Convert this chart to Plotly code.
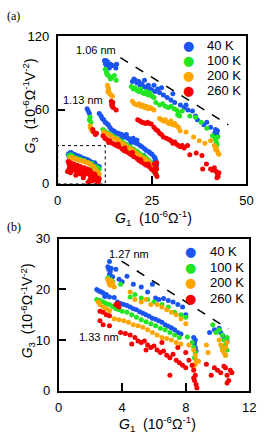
import plotly.graph_objects as go

# ---------------- DATA ----------------
temps = ["40 K", "100 K", "200 K", "260 K"]
colors = ["#1a55f0", "#22e622", "#ffa500", "#f50000"]

# Panel (a)
a_x_40 = [12.4, 12.6, 12.8, 13.0, 12.7, 13.2, 13.5, 13.0, 14.0, 14.6, 15.4, 15.6, 13.7,
          7.8, 8.1, 8.4,
          11.0, 11.5, 11.8, 12.2, 12.6, 13.0, 13.4, 13.8, 14.2, 14.8, 15.2, 15.6, 16.0, 16.5, 17.0, 17.5, 18.0,
          18.5, 19.0, 19.3, 19.8, 20.3, 20.8, 21.2, 21.8, 22.3, 23.0, 23.5, 24.2, 25.0, 25.5, 25.8, 26.0, 26.1,
          26.2, 25.7, 22.8, 16.8, 18.2, 20.0, 21.0, 17.3, 19.5, 24.5,
          2.8, 3.2, 3.5, 3.8, 4.2, 4.6, 5.0, 5.5, 6.0, 6.5, 7.0, 7.5, 8.0, 8.5, 9.0, 9.5, 10.0, 10.5, 11.0,
          3.0, 4.0, 9.8,
          19.8, 20.2, 20.6, 21.0, 21.5, 21.8, 22.3, 22.8, 23.0, 23.5, 24.0, 24.5, 25.0, 25.8, 26.5, 27.0,
          28.0, 29.0, 30.0, 31.0, 32.5, 33.5, 34.5, 35.7, 36.5, 37.0, 38.7, 39.5, 40.5, 41.8, 42.0, 42.2,
          42.0, 42.3, 41.6, 25.5, 27.5, 30.5, 34.0]
a_y_40 = [100, 99, 100, 98, 97, 99, 96, 95, 97, 96, 94, 97, 94,
          61, 59, 57,
          57, 55, 53, 52, 50, 49, 48, 46, 44, 43, 42, 41, 41, 40.5, 40, 39, 38.5,
          37, 36.5, 35, 35.5, 34, 33, 32.5, 31, 30, 28.5, 27, 26, 24, 22, 21, 19, 17,
          15, 18, 23, 38, 40, 37, 35.5, 37.5, 33.5, 25,
          24, 25, 25.5, 24.5, 24, 23.5, 23, 22.5, 22, 21, 20.5, 20, 19.5, 18.5, 17.5, 16.5, 15.5, 14.5, 14,
          22, 22.5, 17,
          83, 85, 84, 82, 83, 80, 81, 79, 84, 78, 80, 77, 76, 75, 77, 74,
          72, 70, 68, 66, 64, 62, 60, 59, 55, 52, 48, 50, 46, 44, 42, 40,
          38, 43, 41, 80, 78, 73, 64]

a_x_100 = [12.6, 12.9, 13.1, 13.4, 13.8, 14.3, 15.0, 15.5, 13.0, 14.0,
           8.6, 8.4, 8.8,
           12.0, 12.3, 12.8, 13.3, 13.8, 14.5, 15.0, 15.5, 16.2, 17.0, 17.5, 18.2, 19.0, 19.5, 20.2, 21.0,
           21.5, 22.2, 23.0, 23.5, 24.2, 24.8, 25.3, 25.8, 26.0, 26.2, 25.5, 22.5, 20.0, 18.4,
           3.0, 3.5, 4.0, 5.0, 6.0, 7.0, 8.0, 9.0, 10.0, 10.5, 11.0, 9.5, 8.8,
           19.5, 20.0, 20.5, 21.0, 21.5, 22.0, 22.5, 23.0, 23.5, 24.0, 24.5, 25.0, 25.5, 26.0, 27.0, 27.8,
           28.5, 29.3, 30.0, 30.8, 31.5, 32.0, 32.3, 31.8, 33.0, 35.0, 36.5, 38.0, 39.5, 41.0, 41.8, 42.0,
           42.2, 42.0, 41.7, 42.4]
a_y_100 = [93, 91, 89, 88, 87, 86, 88, 84, 90, 85,
           54, 52, 50,
           44, 43, 42, 41, 40.5, 39, 38, 37, 36, 34.5, 33, 32, 30.5, 29, 28, 26.5,
           25, 23.5, 22, 21, 19, 17, 15, 12, 9, 7, 10, 18, 23, 27.5,
           23, 23.5, 22.5, 21, 20, 19, 17.5, 16.5, 14, 13.5, 12, 13, 12,
           79, 77, 78, 76, 75, 77, 74, 73, 75, 72, 74, 71, 70, 66, 64, 65,
           63, 62, 63, 61, 60, 58, 55, 56, 59, 55, 54, 50, 45, 39, 36, 34,
           32, 30, 37, 38]

a_x_200 = [13.2, 13.4, 13.5, 13.3, 13.6, 13.8, 14.5, 14.2,
           8.6, 8.8, 9.0, 8.7,
           12.2, 12.8, 13.5, 14.2, 15.0, 15.8, 16.5, 17.3, 18.0, 18.8, 19.5, 20.3, 21.0, 21.8, 22.5, 23.3,
           24.0, 24.8, 25.5, 26.0, 16.0, 20.0, 23.0,
           3.2, 3.6, 4.0, 4.5, 5.0, 5.5, 6.0, 6.5, 7.0, 7.5, 8.0, 8.5, 9.0, 9.5, 10.0, 10.5, 11.0, 10.8,
           19.8, 20.3, 21.0, 21.5, 22.0, 22.5, 23.0, 23.5, 24.0, 24.5, 25.0, 25.5, 27.0, 27.5, 28.0, 28.5,
           29.0, 29.5, 30.0, 30.5, 31.0, 31.5, 32.0, 32.4, 34.0, 36.0, 37.5, 39.0, 40.5, 41.5, 42.0, 42.2,
           42.5, 42.7, 41.8]
a_y_200 = [80, 78, 76, 75, 74, 73, 71, 72,
           47, 45, 43, 46,
           42, 41, 40, 38.5, 37, 35.5, 34, 32.5, 31, 29.5, 28, 26, 24.5, 23, 21, 19.5,
           18, 16, 14, 12, 36, 27, 20.5,
           21, 21.5, 21, 20.5, 20, 19.5, 19, 18.5, 18, 17.5, 17, 16, 15, 14, 12, 10, 8, 6,
           67, 65, 64, 65, 63, 64, 62, 63, 61, 62, 61, 60, 53, 52, 51, 52,
           50, 49, 51, 48, 49, 47, 46, 43, 42, 38, 35, 33, 35, 31, 29, 27,
           25, 24, 28]

a_x_260 = [14.2, 14.4, 14.5, 14.3, 14.7, 14.6, 15.5,
           9.5, 10.0, 10.3, 9.3,
           12.0, 12.5, 13.0, 13.8, 14.5, 15.0, 15.5, 16.2, 17.0, 17.5, 18.2, 19.0, 19.5, 20.2, 21.0, 21.5,
           22.2, 23.0, 23.5, 24.2, 24.8, 25.3, 25.8, 26.0, 26.2, 26.0, 26.3, 25.6, 26.2, 13.5, 16.0, 17.8,
           19.8, 22.0, 24.0,
           2.8, 3.0, 3.2, 3.5, 3.8, 4.0, 4.3, 4.6, 5.0, 5.2, 5.5, 5.8, 6.0, 6.3, 6.6, 7.0, 7.2, 7.5, 7.8,
           8.0, 8.2, 8.5, 8.7, 9.0, 9.2, 9.5, 9.8, 10.0, 10.2, 10.5, 10.8, 11.0, 9.0, 8.5, 3.0, 4.0, 5.0,
           6.0, 7.0, 8.0, 10.6, 2.6, 3.4, 4.8, 6.8, 9.6,
           21.2, 21.8, 22.3, 22.8, 23.3, 23.8, 24.3, 24.8, 25.5, 26.0, 26.5, 27.0, 27.5, 28.0, 28.8, 29.5,
           30.0, 30.5, 31.0, 31.5, 32.0, 32.5, 33.0, 33.5, 34.4, 35.0, 36.7, 38.2, 39.4, 38.4, 40.5, 41.5,
           42.0, 42.3, 42.5, 42.7, 42.2, 41.0]
a_y_260 = [67, 65, 63, 64, 62, 66, 60,
           42, 40, 41, 44,
           39, 37, 36, 35, 33, 32, 31, 30, 28.5, 27, 26, 24.5, 23.5, 22, 20.5, 19,
           17.5, 16, 15, 14, 12, 11, 9, 14, 12, 8, 6, 16, 17, 33.5, 32, 29,
           25.5, 19.5, 16,
           18, 16, 14, 17, 15, 13, 16, 14, 12, 15, 13, 11, 14, 12, 10, 13, 11, 9, 12,
           10, 8, 11, 6, 9, 7, 5, 8, 6, 3, 5, 2, 4, 2, 3, 12, 11, 10,
           8, 7, 1, 1, 10, 9, 7, 5, 3,
           52, 51, 50, 49.5, 49, 50, 49, 48.5, 46, 44, 43, 41, 40, 38, 37, 36,
           35, 33, 34, 32, 31, 30, 31, 29, 31, 23.5, 25, 23, 16, 12, 12, 13,
           10, 8, 6, 9, 5, 11]

# Panel (b)
b_x_40 = [3.1, 3.2, 3.15, 3.25, 3.3, 3.2, 3.4, 3.6, 3.8, 4.0, 4.3, 4.7, 5.2, 5.6, 5.9, 6.1, 6.3, 6.6,
          6.9, 7.2, 7.5, 7.8, 8.0, 9.5, 9.8, 10.1, 10.3, 10.4, 10.5, 10.6, 10.2,
          2.4, 2.5, 2.6, 2.7, 2.8, 3.0, 3.2, 3.5, 3.7, 3.9, 4.1, 4.3, 4.5, 4.7, 4.9, 5.1, 5.3, 5.5, 5.7,
          5.9, 6.1, 6.3, 6.5, 6.7, 6.9, 7.1, 7.3, 7.5, 7.7, 8.5, 8.6, 8.55, 8.6, 8.65, 2.9]
b_y_40 = [24.5, 25.5, 24, 23.5, 24.2, 23, 22.5, 24, 22, 21.5, 22.6, 21, 20.5, 19.5, 21, 18.3, 18, 18.2,
          17.8, 17.5, 17, 16.5, 15, 11.5, 12, 12.3, 11, 10.5, 10, 9.8, 11.5,
          20, 19.8, 19.6, 19.5, 19.3, 19, 18.5, 18.4, 17.5, 17.2, 17, 16.8, 16.5, 16.2, 16, 15.6, 15.3, 15, 14.7,
          14.3, 14.1, 13.8, 13.5, 13, 12.7, 12.4, 12, 11.5, 11.2, 10.5, 10, 9.3, 8.5, 7.8, 18.6]

b_x_100 = [3.1, 3.2, 3.3, 3.4, 3.9, 4.5, 4.8, 5.2, 5.6, 6.0, 6.5, 6.9, 7.3, 7.7, 8.0, 9.7, 9.9, 10.1,
           10.3, 10.4, 10.5, 10.6, 10.5, 10.3, 10.6,
           2.4, 2.6, 2.8, 3.0, 3.2, 3.4, 3.6, 3.8, 4.0, 4.3, 4.6, 4.9, 5.2, 5.5, 5.8, 6.1, 6.4, 6.7, 7.0,
           7.3, 7.6, 8.1, 8.4, 8.5, 8.6, 8.55]
b_y_100 = [22.3, 22, 21.8, 21.5, 21, 18.5, 19, 18.3, 18, 17.5, 17, 16.5, 15.5, 15, 14.5, 13, 11.5, 12,
           11, 10, 9, 8, 7, 8.5, 10.5,
           18, 17.8, 17.5, 17.2, 17, 16.6, 16.2, 16, 15.7, 15.5, 15, 14.5, 14, 13.6, 13.2, 12.8, 12.3, 12, 11.5,
           11, 10.5, 10.6, 9.5, 8.5, 7.5, 6.5]

b_x_200 = [3.1, 3.15, 3.2, 3.25, 3.3, 3.4, 3.5, 4.5, 4.8, 5.2, 5.5, 5.8, 6.2, 6.5, 6.8, 7.1, 7.4, 7.7,
           8.0, 9.3, 9.4, 10.1, 10.2, 10.3, 10.4, 10.5, 10.6, 10.5, 8.8,
           2.5, 2.6, 2.8, 3.0, 3.2, 3.5, 3.8, 4.1, 4.4, 4.7, 5.0, 5.3, 5.6, 5.9, 6.2, 6.5, 6.8, 7.1, 7.4,
           7.7, 8.2, 8.5, 8.6, 8.65, 8.6, 8.5]
b_y_200 = [22, 21.5, 21, 20.8, 21.7, 21.2, 20.5, 19.5, 18, 17.5, 18, 17, 17, 16.5, 16, 15.5, 15, 14.2,
           13.2, 9, 7.5, 10, 9, 8, 7.5, 8.5, 9.5, 7, 5.8,
           17.5, 17, 16.5, 16.2, 15.8, 14.2, 14, 13.8, 13.5, 13, 12.8, 12.5, 12, 11.5, 11, 10.5, 10.3, 10, 9.5,
           9.2, 9, 8, 7, 6, 5.2, 4.5]

b_x_260 = [3.6, 3.7, 3.75, 3.8, 2.6, 2.8, 3.0, 3.2, 2.6, 2.8, 3.2, 3.9, 4.2, 4.5, 4.8, 5.0, 5.2, 5.4,
           5.6, 5.8, 6.0, 6.2, 6.4, 6.6, 6.8, 7.0, 7.2, 7.4, 7.6, 7.8, 8.0, 8.2, 8.4, 8.5, 8.6, 8.55, 8.65,
           8.7, 8.5, 5.5, 6.5, 7.5, 4.6, 9.3, 9.6, 9.8, 10.0, 10.2, 10.4, 10.6, 10.7, 10.8, 10.9, 10.6,
           10.5, 7.0, 8.0]
b_y_260 = [17, 16.8, 17.2, 16.5, 15.7, 15.5, 15, 14.8, 13.8, 13, 12.8, 11.5, 11.3, 11, 10.5, 9.8, 9.5, 9.8,
           9, 8.5, 8.8, 8, 7.5, 7.8, 7, 6.5, 7.2, 6, 5.5, 5, 4.5, 6, 5, 4, 3, 2, 1.2,
           0.5, 2.5, 8, 9.5, 8.5, 9.2, 5.2, 3, 4.5, 4, 3.5, 4.8, 3, 2, 4, 3.5, 1.5,
           4.5, 3, 7.5]

a_ticks_x = [0, 25, 50]
a_ticks_y = [0, 60, 120]
b_ticks_x = [0, 4, 8, 12]
b_ticks_y = [0, 10, 20, 30]

a_series = [(a_x_40, a_y_40), (a_x_100, a_y_100), (a_x_200, a_y_200), (a_x_260, a_y_260)]
b_series = [(b_x_40, b_y_40), (b_x_100, b_y_100), (b_x_200, b_y_200), (b_x_260, b_y_260)]

# ---------------- FIGURE ----------------
W, H = 264, 442
fig = go.Figure()

for (xs, ys), name, c in zip(a_series, temps, colors):
    fig.add_trace(go.Scatter(x=xs, y=ys, mode="markers", name=name, showlegend=False,
                             marker=dict(color=c, size=5, line=dict(width=0)),
                             xaxis="x", yaxis="y"))
for (xs, ys), name, c in zip(b_series, temps, colors):
    fig.add_trace(go.Scatter(x=xs, y=ys, mode="markers", name=name, showlegend=False,
                             marker=dict(color=c, size=5, line=dict(width=0)),
                             xaxis="x2", yaxis="y2"))

FONT = "Liberation Sans, Arial, sans-serif"
axis_common = dict(showline=True, linecolor="black", linewidth=1.5, mirror=True,
                   ticks="inside", ticklen=8, tickwidth=1.5, tickcolor="black",
                   showgrid=False, zeroline=False, tickfont=dict(family=FONT, size=13, color="black"),
                   ticklabelstandoff=4)

fig.update_layout(
    width=W, height=H, margin=dict(l=0, r=0, t=0, b=0),
    paper_bgcolor="white", plot_bgcolor="white",
    showlegend=False,
    font=dict(family=FONT, size=12, color="black"),
    xaxis=dict(domain=[56 / W, 253 / W], range=[0, 50], tickvals=a_ticks_x, anchor="y", **axis_common),
    yaxis=dict(domain=[1 - 183 / H, 1 - 30 / H], range=[0, 120], tickvals=a_ticks_y, anchor="x", **axis_common),
    xaxis2=dict(domain=[57 / W, 256 / W], range=[0, 12], tickvals=b_ticks_x, anchor="y2", **axis_common),
    yaxis2=dict(domain=[1 - 397 / H, 1 - 240 / H], range=[0, 30], tickvals=b_ticks_y, anchor="x2", **axis_common),
)

# dashed guide lines and dotted inset box
fig.add_shape(type="line", xref="x", yref="y", x0=16.6, y0=102.5, x1=45.2, y1=47.8,
              line=dict(color="black", width=1.5, dash="dash"))
fig.add_shape(type="line", xref="x2", yref="y2", x0=3.96, y0=25.6, x1=10.67, y1=12.2,
              line=dict(color="black", width=1.5, dash="dash"))
fig.add_shape(type="rect", xref="x", yref="y", x0=0, y0=0, x1=12.6, y1=31,
              line=dict(color="black", width=1, dash="dot"))

ann = []
def px(xp, yp):
    return xp / W, 1 - yp / H

def add_text(text, xp, yp, size=11, xanchor="center", family=FONT, color="black", angle=0):
    x, y = px(xp, yp)
    ann.append(dict(text=text, x=x, y=y, xref="paper", yref="paper", showarrow=False,
                    xanchor=xanchor, yanchor="middle", textangle=angle,
                    font=dict(family=family, size=size, color=color)))

# panel labels
add_text("(a)", 1, 9, size=12, xanchor="left", family="Liberation Serif, Times New Roman, serif")
add_text("(b)", 1, 228, size=12, xanchor="left", family="Liberation Serif, Times New Roman, serif")

# size annotations
add_text("1.06 nm", 96, 44, size=11)
add_text("1.13 nm", 82, 96, size=11)
add_text("1.27 nm", 130, 256, size=11)
add_text("1.33 nm", 99, 342, size=11)

# axis titles
xt = "<i>G</i><sub>1</sub>  (10<sup>-6</sup>Ω<sup>-1</sup>)"
yt = "<i>G</i><sub>3</sub>  (10<sup>-6</sup>Ω<sup>-1</sup>V<sup>-2</sup>)"
add_text(xt, 156, 218, size=14)
add_text(yt, 27, 102, size=14, angle=-90)
add_text(xt, 160, 432, size=14)
add_text(yt, 25, 314, size=14, angle=-90)

# manual legends
for i, (name, c) in enumerate(zip(temps, colors)):
    ya = 40 + 15.6 * i
    add_text("●", 192, ya, size=13, color=c, family="DejaVu Sans")
    add_text(name, 210, ya, size=13, xanchor="left")
    yb = 253 + 16.2 * i
    add_text("●", 195, yb, size=13, color=c, family="DejaVu Sans")
    add_text(name, 213, yb, size=13, xanchor="left")

fig.update_layout(annotations=ann)
fig.write_html("out.html",
               config={"displayModeBar": False},
               post_script="document.body.style.margin='0px';document.body.style.overflow='hidden';")
